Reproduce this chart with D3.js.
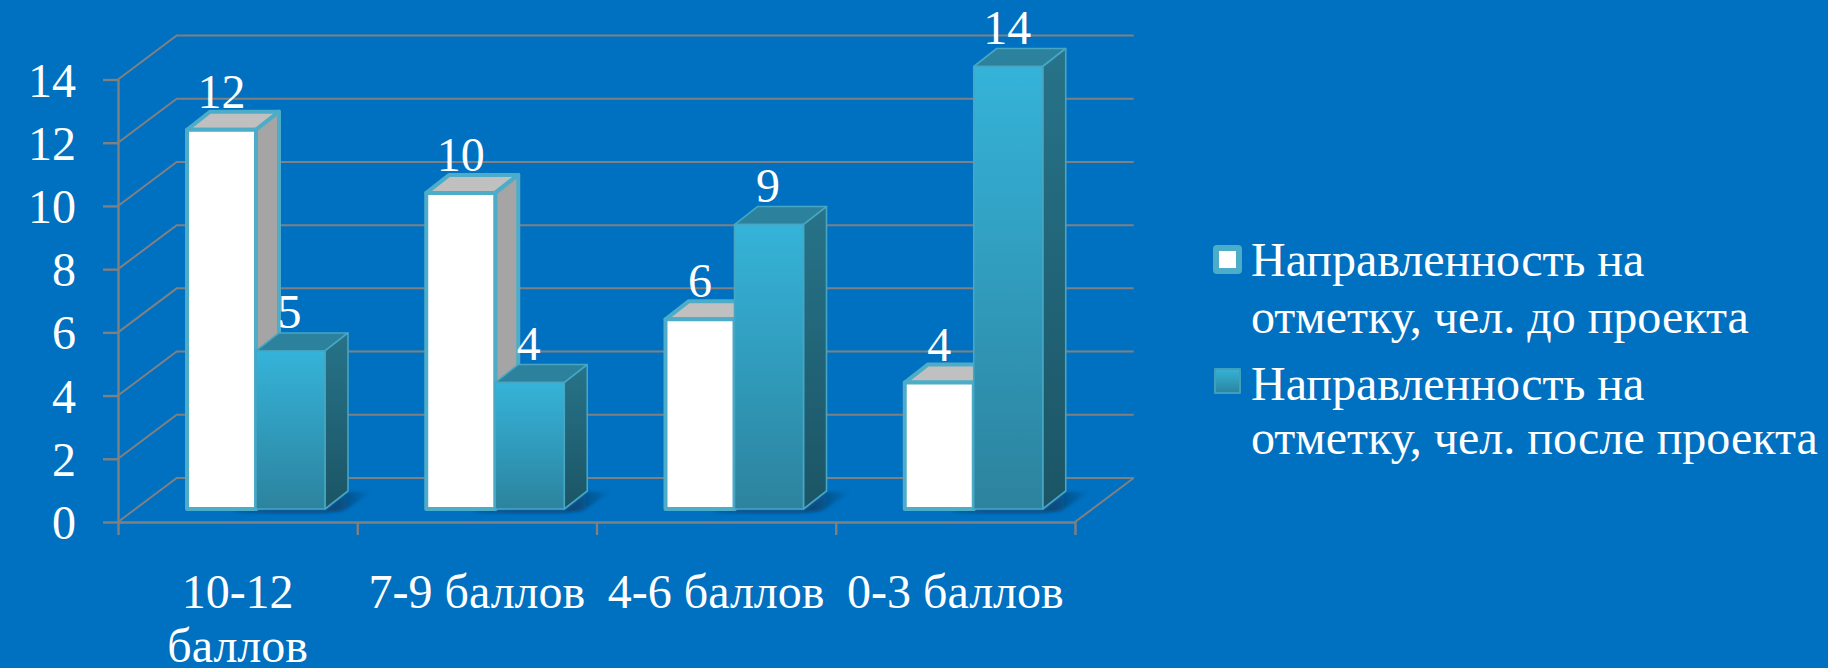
<!DOCTYPE html>
<html lang="ru"><head><meta charset="utf-8">
<script src="https://cdnjs.cloudflare.com/ajax/libs/d3/7.8.5/d3.min.js"></script>
<style>html,body{margin:0;padding:0;background:#0070C0;overflow:hidden}svg{display:block}
text{font-family:"Liberation Serif","Times New Roman",serif;fill:#fff}</style></head><body><div id="c"></div>
<script>
const categories = ["10-12 баллов", "7-9 баллов", "4-6 баллов", "0-3 баллов"];
const seriesBefore = [12, 10, 6, 4];
const seriesAfter = [5, 4, 9, 14];
const yTickValues = [0, 2, 4, 6, 8, 10, 12, 14];
const legendBefore = ["Направленность на", "отметку, чел. до проекта"];
const legendAfter = ["Направленность на", "отметку, чел. после проекта"];

const W = 1828, H = 668, FS = 48;
const svg = d3.select("#c").append("svg").attr("width", W).attr("height", H);
const defs = svg.append("defs");
const addGrad = (id, a, b) => {
  const g = defs.append("linearGradient").attr("id", id).attr("x1", 0).attr("y1", 0).attr("x2", 0).attr("y2", 1);
  g.append("stop").attr("offset", "0%").attr("stop-color", a);
  g.append("stop").attr("offset", "100%").attr("stop-color", b);
};
addGrad("front", "#35B3D9", "#2C839E");
addGrad("side", "#277389", "#1B5565");
const shade = defs.append("linearGradient").attr("id", "shade").attr("x1", 0).attr("y1", 0).attr("x2", 1).attr("y2", 0);
shade.append("stop").attr("offset", "0%").attr("stop-color", "#0A4675").attr("stop-opacity", 0.2);
shade.append("stop").attr("offset", "25%").attr("stop-color", "#0A4675").attr("stop-opacity", 0.9);
shade.append("stop").attr("offset", "75%").attr("stop-color", "#0A4675").attr("stop-opacity", 0.9);
shade.append("stop").attr("offset", "100%").attr("stop-color", "#0A4675").attr("stop-opacity", 0);
defs.append("filter").attr("id", "blur").attr("x", "-20%").attr("y", "-50%").attr("width", "140%").attr("height", "200%")
  .append("feGaussianBlur").attr("stdDeviation", 1.8);

const y = d3.scaleLinear().domain([0, 14]).range([522, 79.5]);
const x = d3.scaleBand().domain(categories).range([118, 1075]);
const xEdge = d3.scaleLinear().domain([0, categories.length]).range([118, 1075]);
const wall = { dx: 58.7, dy: -44 };        // floor depth
const inset = { dx: 69, dy: -13 };         // bar front relative to band start / axis
const barW = 69;
const depth = { dx: 23, dy: -18 };         // bar depth
const grid = "#808080";

// Gridlines (wall + floor)
const gG = svg.append("g").attr("fill", "none").attr("stroke", grid).attr("stroke-width", 2);
yTickValues.forEach(v => {
  gG.append("path").attr("d", d3.line()([
    [xEdge(0), y(v)], [xEdge(0) + wall.dx, y(v) + wall.dy], [xEdge(4) + wall.dx, y(v) + wall.dy]
  ]));
});
gG.append("path").attr("d", d3.line()([[xEdge(4), y(0)], [xEdge(4) + wall.dx, y(0) + wall.dy]]));

// Axes
const ax = svg.append("g").attr("transform", `translate(${xEdge(0)},0)`)
  .call(d3.axisLeft(y).tickValues(yTickValues).tickSize(15).tickSizeOuter(0).tickFormat(""));
const bx = svg.append("g").attr("transform", `translate(0,${y(0)})`)
  .call(d3.axisBottom(xEdge).tickValues(d3.range(categories.length + 1)).tickSize(13).tickSizeOuter(0).tickFormat(""));
[ax, bx].forEach(a => { a.selectAll("path,line").attr("stroke", grid).attr("stroke-width", 2.4); });

svg.append("g").selectAll("text").data(yTickValues).join("text")
  .attr("x", 76).attr("y", d => y(d) + 17).attr("text-anchor", "end").attr("font-size", FS).text(d => d);

// Bars
function bar(g, xl, v, st) {
  const top = y(v) + inset.dy, bot = y(0) + inset.dy, xr = xl + barW;
  const poly = pts => d3.line()(pts) + "Z";
  g.append("path").attr("d", poly([[xl, top], [xl + depth.dx, top + depth.dy], [xr + depth.dx, top + depth.dy], [xr, top]]))
    .attr("fill", st.top).attr("stroke", st.stroke).attr("stroke-width", st.sw).attr("stroke-linejoin", "round");
  g.append("path").attr("d", poly([[xr, top], [xr + depth.dx, top + depth.dy], [xr + depth.dx, bot + depth.dy], [xr, bot]]))
    .attr("fill", st.side).attr("stroke", st.stroke).attr("stroke-width", st.sw).attr("stroke-linejoin", "round");
  g.append("rect").attr("x", xl).attr("y", top).attr("width", barW).attr("height", bot - top)
    .attr("fill", st.front).attr("stroke", st.stroke).attr("stroke-width", st.sw).attr("stroke-linejoin", "round");
}
const stBefore = { front: "#fff", top: "#C0C0C0", side: "#A5A5A5", stroke: "#4DACC7", sw: 4 };
const stAfter = { front: "url(#front)", top: "#2C829D", side: "url(#side)", stroke: "#46A6C3", sw: 1.6 };

categories.forEach((c, i) => {
  const g = svg.append("g");
  const xl = x(c) + inset.dx, b = y(0) + inset.dy, xm = xl + barW, xr = xm + barW;
  // floor shadow
  g.append("path").attr("d", d3.line()([
    [xl + 45, b + 1], [xr, b + 1], [xr + depth.dx, b + depth.dy + 1], [xr + depth.dx + 24, b + depth.dy + 1],
    [xr + 18, b + 2], [xr - 2, b + 4], [xl + 50, b + 4]
  ]) + "Z").attr("fill", "url(#shade)").attr("filter", "url(#blur)");
  bar(g, xl, seriesBefore[i], stBefore);
  bar(g, xm, seriesAfter[i], stAfter);
});

// Data labels
const labelG = svg.append("g").attr("text-anchor", "middle").attr("font-size", FS);
categories.forEach((c, i) => {
  const xl = x(c) + inset.dx;
  labelG.append("text").attr("x", xl + barW / 2).attr("y", y(seriesBefore[i]) + inset.dy - 22).text(seriesBefore[i]);
  labelG.append("text").attr("x", xl + barW * 1.5 - 1).attr("y", y(seriesAfter[i]) + inset.dy - 23).text(seriesAfter[i]);
});

// Category labels (wrapped to the band)
const catG = svg.append("g").attr("text-anchor", "middle").attr("font-size", FS);
categories.forEach(c => {
  const t = catG.append("text").attr("x", x(c) + x.bandwidth() / 2).attr("y", 608).text(c);
  if (t.node().getComputedTextLength() > x.bandwidth()) {
    const words = c.split(" ");
    t.text(null);
    words.forEach((w, k) => t.append("tspan").attr("x", x(c) + x.bandwidth() / 2).attr("y", 608 + k * 54).text(w));
  }
});

// Legend
const legG = svg.append("g").attr("font-size", FS);
function legendText(lines, baseline, lead) {
  lines.forEach((l, k) => legG.append("text").attr("x", 1251).attr("y", baseline + k * lead).text(l));
}
legG.append("rect").attr("x", 1216).attr("y", 248).attr("width", 23).attr("height", 23).attr("rx", 1)
  .attr("fill", "#fff").attr("stroke", "#4DACC7").attr("stroke-width", 6).attr("stroke-linejoin", "round");
legG.append("rect").attr("x", 1215).attr("y", 369).attr("width", 25).attr("height", 24)
  .attr("fill", "url(#front)").attr("stroke", "#3F9FBD").attr("stroke-width", 2).attr("stroke-linejoin", "round");
legendText(legendBefore, 276, 56.5);
legendText(legendAfter, 399.5, 54.5);
</script></body></html>
